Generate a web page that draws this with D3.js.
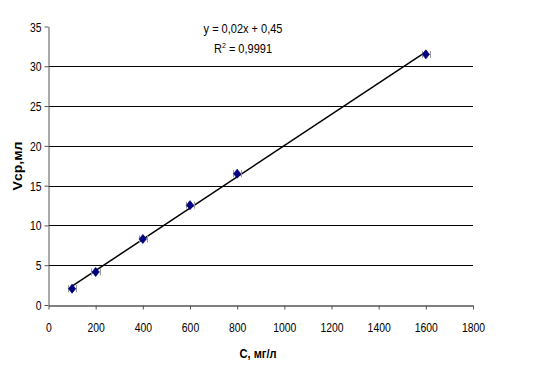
<!DOCTYPE html>
<html><head><meta charset="utf-8">
<script src="https://cdn.jsdelivr.net/npm/d3@7"></script>
<style>
body{margin:0;background:#fff;}
text{font-family:"Liberation Sans",Arial,sans-serif;fill:#000;}
</style></head>
<body><svg id="c" width="533" height="379"></svg>
<script>
const concentrations = [100, 200, 400, 600, 800, 1600];
const volumes = [2.05, 4.15, 8.3, 12.55, 16.5, 31.5];
const xErrors = [18, 18, 18, 18, 18, 18];
const xTicks = [0, 200, 400, 600, 800, 1000, 1200, 1400, 1600, 1800];
const yTicks = [0, 5, 10, 15, 20, 25, 30, 35];
const equationText = "y = 0,02x + 0,45";
const r2Value = "0,9991";
const xTitle = "С, мг/л";
const yTitle = "Vср,мл";

const svg = d3.select("#c");
const x = d3.scaleLinear().domain([0, 1800]).range([48.5, 473]);
const y = d3.scaleLinear().domain([0, 35]).range([305, 26.5]);

// gridlines
svg.append("g").selectAll("line").data(yTicks.filter(d => d > 0 && d < 35)).join("line")
  .attr("x1", x(0)).attr("x2", x(1800))
  .attr("y1", d => Math.round(y(d)) + 0.5).attr("y2", d => Math.round(y(d)) + 0.5)
  .attr("stroke", "#000").attr("stroke-width", 1);

// y axis
const gy = svg.append("g").attr("transform", "translate(48.5,0)")
  .call(d3.axisLeft(y).tickValues(yTicks).tickSize(4).tickSizeOuter(0));
gy.select(".domain").attr("stroke", "#555");
gy.selectAll(".tick line").attr("stroke", "#555");
gy.selectAll(".tick text").attr("x", null).attr("dy", null)
  .attr("font-size", 13).attr("text-anchor", "end")
  .attr("transform", "translate(-7,4.5) scale(0.8,1)");

// x axis
const gx = svg.append("g").attr("transform", "translate(0,305.5)")
  .call(d3.axisBottom(x).tickValues(xTicks).tickSize(4).tickSizeOuter(0).tickFormat(d3.format("d")));
gx.select(".domain").attr("stroke", "#000");
gx.selectAll(".tick line").attr("stroke", "#555");
gx.selectAll(".tick text").attr("y", null).attr("dy", null)
  .attr("font-size", 13).attr("text-anchor", "middle")
  .attr("transform", "translate(0,26) scale(0.8,1)");

// trendline (least squares)
const mx = d3.mean(concentrations), my = d3.mean(volumes);
let sxy = 0, sxx = 0;
concentrations.forEach((c, i) => { sxy += (c - mx) * (volumes[i] - my); sxx += (c - mx) ** 2; });
const slope = sxy / sxx, icpt = my - slope * mx;
const x0 = d3.min(concentrations), x1 = d3.max(concentrations);
svg.append("line")
  .attr("x1", x(x0)).attr("y1", y(slope * x0 + icpt))
  .attr("x2", x(x1)).attr("y2", y(slope * x1 + icpt))
  .attr("stroke", "#000").attr("stroke-width", 1.5);

// error bars
const eb = svg.append("g").attr("stroke", "#999").attr("stroke-width", 1);
concentrations.forEach((c, i) => {
  const yy = y(volumes[i]);
  eb.append("line").attr("x1", x(c - xErrors[i])).attr("x2", x(c + xErrors[i])).attr("y1", yy).attr("y2", yy);
  [c - xErrors[i], c + xErrors[i]].forEach(v => {
    eb.append("line").attr("x1", Math.round(x(v)) + 0.5).attr("x2", Math.round(x(v)) + 0.5)
      .attr("y1", yy - 3.5).attr("y2", yy + 3.5);
  });
});

// markers (diamonds)
svg.append("g").selectAll("path").data(concentrations).join("path")
  .attr("transform", (d, i) => `translate(${x(d)},${y(volumes[i])})`)
  .attr("d", "M0,-4.5L3.5,0L0,4.5L-3.5,0Z")
  .attr("fill", "#000080").attr("stroke", "#000080").attr("stroke-width", 0.8);

// equation
svg.append("text").attr("font-size", 12.5).attr("text-anchor", "middle")
  .attr("transform", "translate(243,33) scale(0.88,1)").text(equationText);
const r2 = svg.append("text").attr("font-size", 12.5).attr("text-anchor", "middle")
  .attr("transform", "translate(243,53) scale(0.88,1)");
r2.append("tspan").text("R");
r2.append("tspan").attr("font-size", 8).attr("dy", -5).text("2");
r2.append("tspan").attr("dy", 5).text(" = " + r2Value);

// axis titles
svg.append("text").attr("font-size", 13).attr("font-weight", "bold").attr("text-anchor", "middle")
  .attr("transform", "translate(258,358) scale(0.85,1)").text(xTitle);
svg.append("text").attr("font-size", 14).attr("font-weight", "bold").attr("text-anchor", "middle")
  .attr("transform", "translate(22,166) rotate(-90) scale(1,0.85)").text(yTitle);
</script></body></html>
